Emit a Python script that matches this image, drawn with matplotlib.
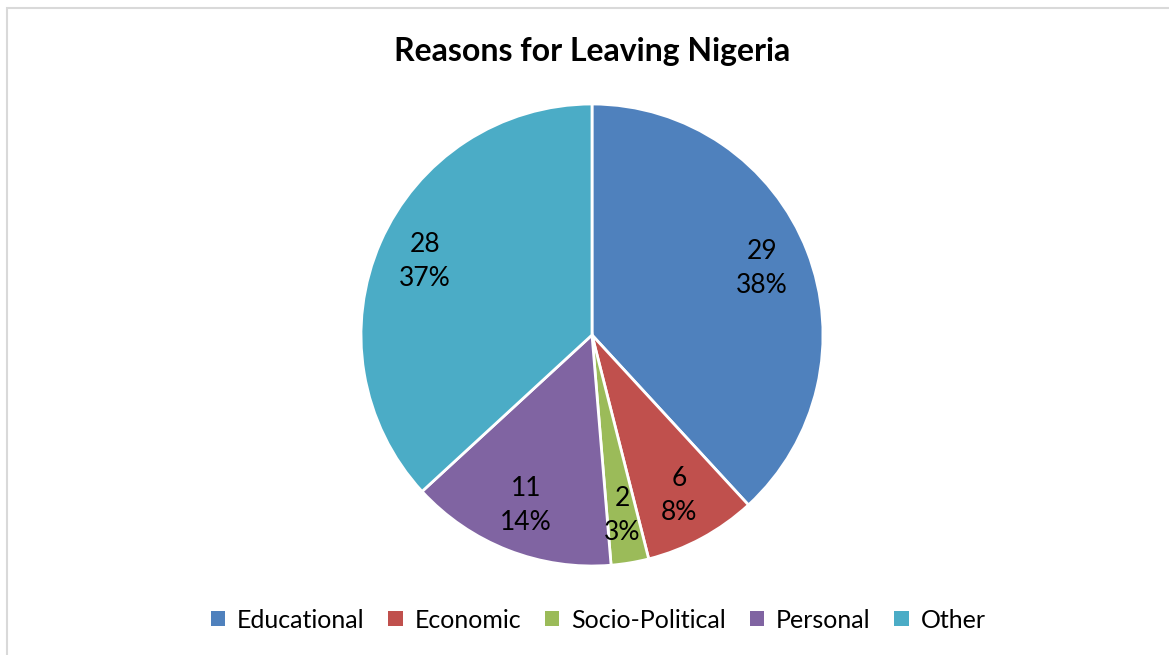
import matplotlib.pyplot as plt
from matplotlib.patches import Rectangle

plt.rcParams['font.family'] = ['Lato', 'DejaVu Sans']

reasons = ['Educational', 'Economic', 'Socio-Political', 'Personal', 'Other']
counts = [29, 6, 2, 11, 28]
colors = ['#4F81BD', '#C0504D', '#9BBB59', '#8064A2', '#4BACC6']

fig = plt.figure(figsize=(11.69, 6.55), dpi=100)
# light frame like the excel chart area
fig.patches.append(Rectangle((7 / 1169, -0.1), 1.2, (655 - 8) / 655 + 0.1,
                             transform=fig.transFigure, fill=False,
                             edgecolor='#d9d9d9', linewidth=1.5))

ax = fig.add_axes([(592 - 231) / 1169, (655 - 335 - 231) / 655, 462 / 1169, 462 / 655])

total = sum(counts)


def fmt(pct):
    v = int(round(pct * total / 100))
    return f'{v}\n{pct:.0f}%'


wedges, texts, autotexts = ax.pie(counts, colors=colors, startangle=90, counterclock=False,
                                  autopct=fmt, pctdistance=0.79,
                                  wedgeprops=dict(edgecolor='white', linewidth=2),
                                  textprops=dict(fontsize=19, color='black', linespacing=1.45))
ax.set_xlim(-1, 1)
ax.set_ylim(-1, 1)
ax.set_aspect('equal')

fig.text(592 / 1169, 1 - 52 / 655, 'Reasons for Leaving Nigeria', ha='center', va='center',
         fontsize=23, fontweight='bold')

leg = fig.legend(wedges, reasons, loc='center', bbox_to_anchor=(598 / 1169, 1 - 620 / 655), ncol=5,
                 frameon=False, fontsize=18, handlelength=0.5, handleheight=0.5,
                 handletextpad=0.55, columnspacing=0.95)
for h in leg.legend_handles:
    h.set_linewidth(0)
    h.set_width(10.5)
    h.set_height(10.5)

fig.savefig('out.png', dpi=100)
